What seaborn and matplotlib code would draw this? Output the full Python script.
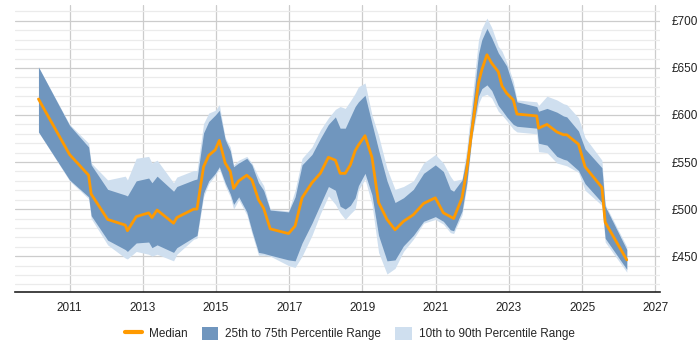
import matplotlib
matplotlib.use("Agg")
import matplotlib.pyplot as plt
from matplotlib.patches import Patch
from matplotlib.lines import Line2D
from matplotlib.ticker import MultipleLocator, FuncFormatter
import seaborn as sns
import pandas as pd

years = [2010.15, 2011.00, 2011.52, 2011.59, 2012.04, 2012.52, 2012.58, 2012.82,
         2013.16, 2013.25, 2013.39, 2013.84, 2013.93, 2014.39, 2014.48, 2014.66,
         2014.80, 2014.98, 2015.09, 2015.25, 2015.39, 2015.48, 2015.62, 2015.84,
         2015.98, 2016.16, 2016.30, 2016.48, 2016.98, 2017.16, 2017.35, 2017.62,
         2017.85, 2018.07, 2018.26, 2018.39, 2018.53, 2018.67, 2018.80, 2018.89,
         2019.07, 2019.26, 2019.44, 2019.67, 2019.89, 2020.12, 2020.39, 2020.67,
         2020.99, 2021.21, 2021.40, 2021.49, 2021.72, 2021.85, 2021.99, 2022.17,
         2022.26, 2022.40, 2022.53, 2022.71, 2022.81, 2022.94, 2023.12, 2023.22,
         2023.76, 2023.81, 2024.04, 2024.31, 2024.49, 2024.58, 2024.90, 2025.08,
         2025.54, 2025.63, 2026.22]
p10 = [582, 530, 511, 490, 462, 448, 447, 455,
       452, 450, 452, 445, 452, 468, 469, 513,
       527, 536, 543, 525, 513, 500, 510, 494,
       474, 451, 451, 450, 440, 438, 450, 472,
       495, 514, 505, 496, 489, 495, 500, 520,
       532, 505, 454, 431, 437, 455, 468, 485,
       489, 484, 475, 474, 494, 524, 575, 612,
       620, 622, 618, 604, 600, 594, 585, 582,
       580, 561, 560, 549, 547, 546, 539, 520,
       504, 465, 433]
q25 = [582, 531, 513, 493, 467, 457, 455, 464,
       465, 459, 462, 454, 459, 470, 472, 517,
       530, 538, 545, 528, 516, 505, 513, 497,
       477, 454, 453, 451, 446, 445, 464, 485,
       505, 524, 520, 503, 500, 504, 512, 525,
       538, 515, 472, 445, 446, 461, 472, 487,
       492, 487, 478, 477, 498, 528, 578, 620,
       628, 632, 626, 610, 605, 598, 590, 588,
       586, 570, 568, 556, 553, 552, 541, 527,
       507, 469, 436]
median = [617, 558, 536, 516, 489, 483, 477, 492,
          496, 491, 499, 485, 491, 500, 500, 545,
          557, 563, 573, 549, 540, 522, 530, 536,
          531, 510, 501, 479, 474, 482, 512, 528,
          538, 555, 552, 538, 538, 547, 562, 568,
          578, 555, 507, 489, 478, 487, 494, 506,
          512, 496, 492, 490, 512, 542, 584, 634,
          648, 664, 655, 646, 631, 623, 616, 601,
          599, 586, 590, 582, 579, 579, 569, 545,
          523, 486, 446]
q75 = [651, 589, 566, 547, 521, 515, 514, 530,
       533, 528, 535, 519, 524, 531, 532, 581,
       593, 600, 605, 574, 562, 545, 549, 554,
       547, 528, 520, 499, 497, 513, 547, 558,
       575, 590, 598, 586, 586, 598, 609, 614,
       621, 591, 563, 530, 507, 512, 521, 538,
       547, 540, 521, 519, 531, 556, 603, 665,
       680, 692, 682, 666, 660, 652, 630, 614,
       609, 604, 607, 603, 599, 598, 583, 564,
       544, 503, 457]
p90 = [651, 590, 570, 549, 531, 535, 531, 554,
       556, 549, 552, 528, 534, 541, 541, 591,
       602, 605, 611, 576, 566, 547, 552, 556,
       549, 534, 525, 500, 498, 520, 554, 566,
       584, 597, 606, 609, 607, 615, 623, 630,
       634, 600, 578, 543, 521, 524, 530, 549,
       558, 549, 535, 530, 532, 565, 615, 680,
       692, 703, 693, 673, 668, 656, 636, 616,
       614, 610, 620, 616, 612, 611, 597, 576,
       552, 505, 460]

xticks = [2011, 2013, 2015, 2017, 2019, 2021, 2023, 2025, 2027]
ytick_labels = ["£450", "£500", "£550", "£600", "£650", "£700"]

df = pd.DataFrame({"year": years, "p10": p10, "q25": q25, "median": median,
                   "q75": q75, "p90": p90})

sns.set_style("white")
plt.rcParams["font.family"] = ["Liberation Sans", "DejaVu Sans"]

fig = plt.figure(figsize=(7, 3.5), dpi=100)
ax = fig.add_axes([0.022, 0.166, 0.921, 0.82])

light = "#cfdfef"
dark = "#7096be"
orange = "#ff9a00"

ax.fill_between(df["year"], df["p10"], df["p90"], color=light, lw=0, zorder=2)
ax.fill_between(df["year"], df["q25"], df["q75"], color=dark, lw=0, zorder=3)
sns.lineplot(data=df, x="year", y="median", color=orange, lw=2, ax=ax, zorder=4)

ax.set_xlim(2009.52, 2027.13)
ax.set_ylim(412, 717)
ax.set_xticks(xticks)
ax.set_xticklabels([str(t) for t in xticks])
ax.yaxis.set_major_locator(MultipleLocator(50))
ax.yaxis.set_minor_locator(MultipleLocator(10))
ax.set_yticks([450, 500, 550, 600, 650, 700])
ax.set_yticklabels(ytick_labels)
ax.yaxis.tick_right()
ax.set_xlabel("")
ax.set_ylabel("")

ax.grid(True, which="major", axis="both", color="#cccccc", lw=0.9, zorder=0)
ax.grid(True, which="minor", axis="y", color="#ebebeb", lw=0.9, zorder=0)
ax.set_axisbelow(True)
for s in ["top", "right", "left"]:
    ax.spines[s].set_visible(False)
ax.spines["bottom"].set_color("#222222")
ax.spines["bottom"].set_linewidth(1.2)
ax.tick_params(axis="x", length=4, color="#888888", labelsize=8.5, colors="#222222")
ax.tick_params(axis="y", which="both", length=0, labelsize=8.5, colors="#222222", pad=8)

handles = [Line2D([0], [0], color=orange, lw=3),
           Patch(facecolor=dark, edgecolor="none"),
           Patch(facecolor=light, edgecolor="none")]
labels = ["Median", "25th to 75th Percentile Range", "10th to 90th Percentile Range"]
fig.legend(handles, labels, loc="center", bbox_to_anchor=(0.5, 0.047), ncol=3,
           frameon=False, fontsize=8.5, handlelength=1.4, handleheight=1.4,
           columnspacing=1.2, handletextpad=0.6)

fig.savefig("out.png", dpi=100)
